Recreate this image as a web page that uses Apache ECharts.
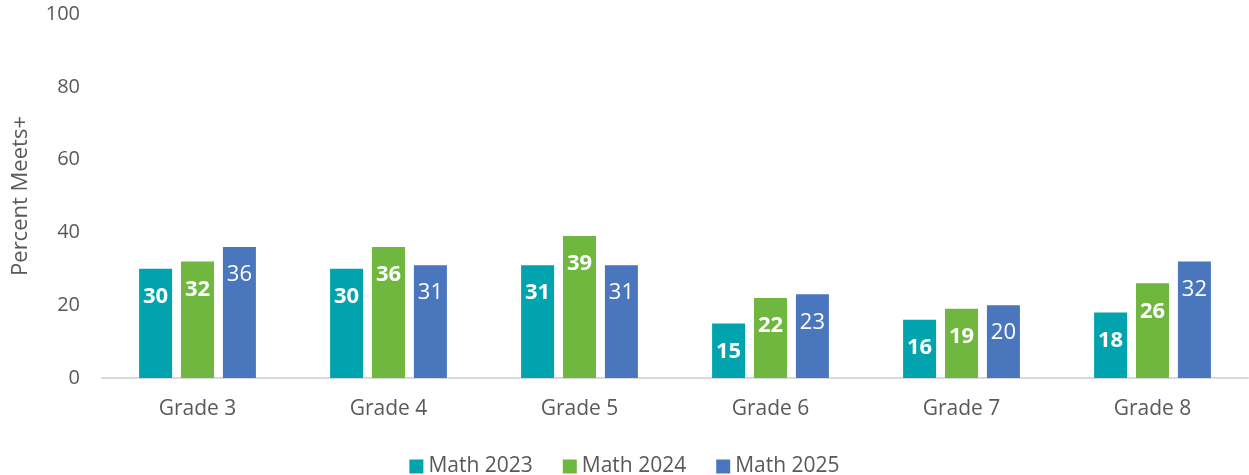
<!DOCTYPE html>
<html>
<head>
<meta charset="utf-8">
<script src="https://cdn.jsdelivr.net/npm/echarts@6/dist/echarts.min.js"></script>
<style>
  html, body { margin: 0; padding: 0; background: #fff; }
  #chart { width: 1249px; height: 475px; }
</style>
</head>
<body>
<div id="chart"></div>
<script>
const grades = ['Grade 3', 'Grade 4', 'Grade 5', 'Grade 6', 'Grade 7', 'Grade 8']
const math2023 = [30, 30, 31, 15, 16, 18]
const math2024 = [32, 36, 39, 22, 19, 26]
const math2025 = [36, 31, 31, 23, 20, 32]

const font = "'Open Sans', sans-serif"
const chart = echarts.init(document.getElementById('chart'))

function barSeries(name, data, color, bold) {
  return {
    name: name,
    type: 'bar',
    data: data,
    barWidth: 33,
    barGap: '27%',
    itemStyle: { color: color },
    label: {
      show: true,
      position: 'insideTop',
      distance: 17,
      color: '#fff',
      fontFamily: font,
      fontSize: 22,
      fontWeight: bold ? 'bold' : 'normal'
    }
  }
}

const option = {
  animation: false,
  grid: { left: 102, right: 1, top: 14, bottom: 97, containLabel: false },
  legend: {
    top: 451,
    left: 'center',
    icon: 'rect',
    itemWidth: 14,
    itemHeight: 14,
    itemGap: 30,
    textStyle: { color: '#595959', fontSize: 21, fontFamily: font }
  },
  xAxis: {
    type: 'category',
    data: grades,
    axisLine: { lineStyle: { color: '#d9d9d9', width: 2 } },
    axisTick: { show: false },
    axisLabel: { color: '#595959', fontSize: 21, fontFamily: font, margin: 21 }
  },
  yAxis: {
    type: 'value',
    min: 0,
    max: 100,
    interval: 20,
    name: 'Percent Meets+',
    nameLocation: 'middle',
    nameGap: 70,
    nameTextStyle: { color: '#595959', fontSize: 22, fontFamily: font },
    axisLine: { show: false },
    axisTick: { show: false },
    splitLine: { show: false },
    axisLabel: { color: '#595959', fontSize: 20, fontFamily: font, margin: 22 }
  },
  series: [
    barSeries('Math 2023', math2023, '#00A3AE', true),
    barSeries('Math 2024', math2024, '#6FB73E', true),
    barSeries('Math 2025', math2025, '#4A76BD', false)
  ]
}

chart.setOption(option)
window.onresize = () => {
  chart.resize()
}
</script>
</body>
</html>
